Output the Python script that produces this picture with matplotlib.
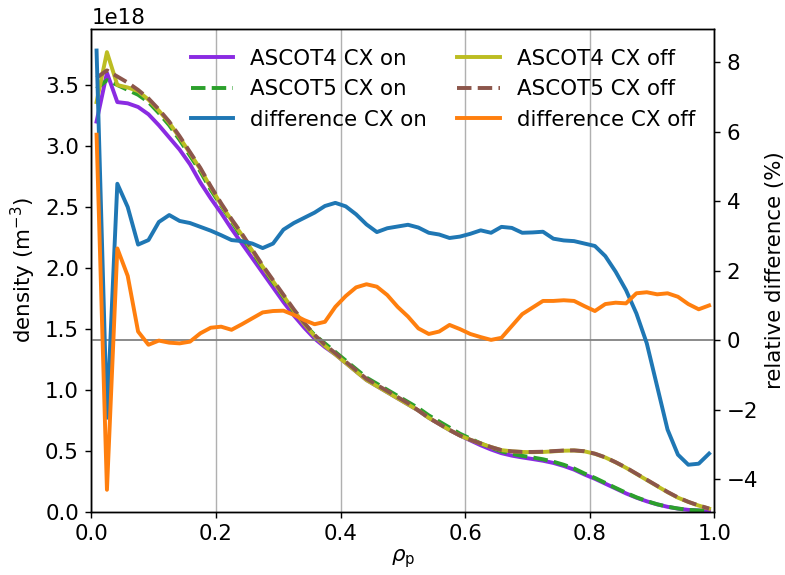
import numpy as np
import matplotlib
matplotlib.use("Agg")
import matplotlib.pyplot as plt

plt.rcParams['font.size'] = 12

# radial grid (60 bins in rho_pol)
rho = np.linspace(1 / 120, 119 / 120, 60)

# densities in units of 1e18 m^-3
asc4_on = [3.20, 3.60, 3.36, 3.35, 3.32, 3.26, 3.17, 3.07, 2.97, 2.85,
           2.70, 2.57, 2.45, 2.32, 2.20, 2.08, 1.96, 1.84, 1.72, 1.61,
           1.51, 1.42, 1.35, 1.29, 1.22, 1.15, 1.08, 1.03, 0.98, 0.93,
           0.88, 0.83, 0.77, 0.72, 0.67, 0.625, 0.585, 0.545, 0.51, 0.48,
           0.46, 0.445, 0.432, 0.418, 0.40, 0.375, 0.345, 0.305, 0.27, 0.23,
           0.19, 0.15, 0.115, 0.085, 0.06, 0.04, 0.025, 0.015, 0.01, 0.006]
asc5_on = [3.47, 3.54, 3.50, 3.46, 3.42, 3.36, 3.27, 3.17, 3.05, 2.92,
           2.79, 2.64, 2.51, 2.38, 2.25, 2.13, 2.00, 1.88, 1.76, 1.64,
           1.54, 1.45, 1.38, 1.31, 1.24, 1.17, 1.10, 1.05, 1.00, 0.95,
           0.90, 0.85, 0.79, 0.74, 0.69, 0.64, 0.60, 0.56, 0.525, 0.495,
           0.474, 0.458, 0.445, 0.43, 0.41, 0.385, 0.354, 0.313, 0.277, 0.236,
           0.195, 0.155, 0.118, 0.087, 0.061, 0.041, 0.026, 0.015, 0.01, 0.006]
asc4_off = [3.36, 3.77, 3.50, 3.48, 3.45, 3.38, 3.29, 3.19, 3.07, 2.94,
            2.81, 2.66, 2.52, 2.39, 2.27, 2.14, 2.01, 1.89, 1.77, 1.65,
            1.54, 1.44, 1.36, 1.29, 1.22, 1.15, 1.08, 1.03, 0.98, 0.93,
            0.88, 0.83, 0.77, 0.72, 0.67, 0.625, 0.59, 0.56, 0.53, 0.505,
            0.495, 0.49, 0.488, 0.49, 0.495, 0.50, 0.502, 0.495, 0.475, 0.445,
            0.405, 0.36, 0.31, 0.26, 0.21, 0.16, 0.115, 0.08, 0.05, 0.025]
asc5_off = [3.56, 3.62, 3.57, 3.52, 3.46, 3.39, 3.30, 3.20, 3.08, 2.95,
            2.82, 2.67, 2.53, 2.40, 2.28, 2.15, 2.02, 1.90, 1.78, 1.66,
            1.55, 1.45, 1.37, 1.30, 1.23, 1.16, 1.09, 1.04, 0.99, 0.94,
            0.89, 0.83, 0.77, 0.72, 0.67, 0.625, 0.59, 0.56, 0.53, 0.505,
            0.495, 0.49, 0.49, 0.492, 0.497, 0.502, 0.503, 0.496, 0.476, 0.446,
            0.406, 0.362, 0.312, 0.262, 0.212, 0.162, 0.117, 0.081, 0.051, 0.026]

# relative difference ASCOT5 vs ASCOT4 (%)
diff_on = [8.33, -2.23, 4.50, 3.83, 2.75, 2.88, 3.40, 3.60, 3.43, 3.37,
           3.26, 3.15, 3.02, 2.88, 2.85, 2.78, 2.65, 2.78, 3.18, 3.37,
           3.52, 3.67, 3.86, 3.95, 3.85, 3.62, 3.33, 3.11, 3.22, 3.27,
           3.32, 3.24, 3.09, 3.04, 2.94, 2.98, 3.06, 3.16, 3.09, 3.26,
           3.23, 3.09, 3.10, 3.12, 2.92, 2.87, 2.85, 2.78, 2.71, 2.42,
           1.97, 1.44, 0.77, -0.09, -1.33, -2.57, -3.29, -3.58, -3.55, -3.26]
diff_off = [5.91, -4.30, 2.64, 1.85, 0.25, -0.13, -0.01, -0.07, -0.09, -0.04,
            0.20, 0.36, 0.39, 0.30, 0.46, 0.63, 0.80, 0.84, 0.85, 0.73,
            0.58, 0.46, 0.53, 0.96, 1.27, 1.52, 1.61, 1.54, 1.30, 0.96,
            0.68, 0.34, 0.18, 0.25, 0.44, 0.32, 0.18, 0.09, 0.01, 0.07,
            0.41, 0.75, 0.94, 1.13, 1.13, 1.15, 1.13, 0.98, 0.84, 1.04,
            1.08, 1.06, 1.35, 1.38, 1.32, 1.35, 1.25, 1.04, 0.89, 1.00]

scale = 1e18
lw = 2.2

fig = plt.figure(figsize=(785 / 128, 575 / 128), dpi=128)
ax = fig.add_axes([0.1164, 0.1101, 0.7935, 0.8389])
ax2 = ax.twinx()

l1, = ax.plot(rho, np.array(asc4_on) * scale, color='blueviolet', lw=lw, label='ASCOT4 CX on')
l2, = ax.plot(rho, np.array(asc5_on) * scale, color='tab:green', lw=lw, ls='--', label='ASCOT5 CX on')
l4, = ax.plot(rho, np.array(asc4_off) * scale, color='tab:olive', lw=lw, label='ASCOT4 CX off')
l5, = ax.plot(rho, np.array(asc5_off) * scale, color='tab:brown', lw=lw, ls='--', label='ASCOT5 CX off')

ax2.axhline(0, color='gray', lw=1)
l3, = ax2.plot(rho, diff_on, color='tab:blue', lw=lw, label='difference CX on')
l6, = ax2.plot(rho, diff_off, color='tab:orange', lw=lw, label='difference CX off')

ax.set_xlim(0, 1)
ax.set_ylim(0, 3.957 * scale)
ax2.set_ylim(-4.93, 8.94)
ax.grid(axis='x')

ax.set_xlabel(r'$\rho_\mathrm{p}$', labelpad=2)
ax.set_ylabel(r'density (m$^{-3}$)')
ax2.set_ylabel('relative difference (%)')

handles = [l1, l2, l3, l4, l5, l6]
ax2.legend(handles, [h.get_label() for h in handles], ncol=2, frameon=False,
           loc='upper right', columnspacing=1.4)

fig.savefig('out.png', dpi=128)
